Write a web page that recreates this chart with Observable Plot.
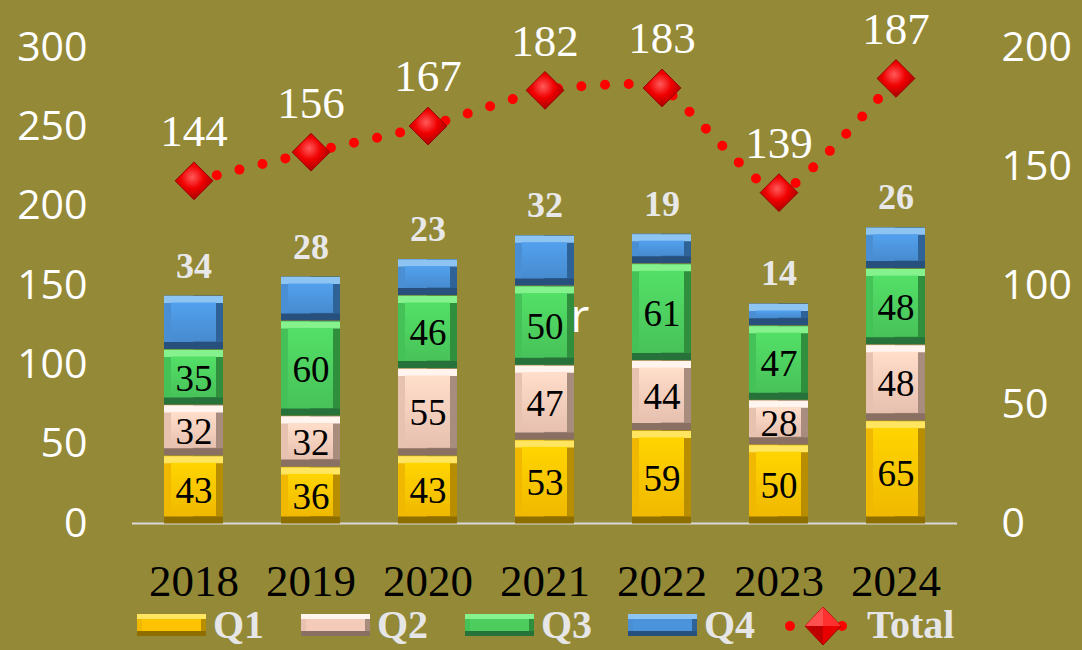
<!DOCTYPE html>
<html><head><meta charset="utf-8">
<script src="https://cdn.jsdelivr.net/npm/d3@7"></script>
<script src="https://cdn.jsdelivr.net/npm/@observablehq/plot@0.6"></script>
<style>
html,body{margin:0;padding:0;background:#948936;}
#chart{width:1082px;height:650px;position:relative;overflow:hidden;background:#948936;}
#chart svg{display:block;}
.legend{position:absolute;top:600px;left:0;width:1082px;height:50px;}
.item{position:absolute;top:0;height:50px;display:flex;align-items:center;}
.lbl{font-family:"Liberation Serif","Times New Roman",serif;font-weight:bold;font-size:40px;color:#E6E6E6;margin-left:7px;line-height:50px;}
</style></head><body><div id="chart"></div>
<script>
// ---- data ----
const years = ["2018","2019","2020","2021","2022","2023","2024"];
const q1 = [43,36,43,53,59,50,65];
const q2 = [32,32,55,47,44,28,48];
const q3 = [35,60,46,50,61,47,48];
const q4 = [34,28,23,32,19,14,26];
const totals = [144,156,167,182,183,139,187];
const seriesNames = ["Q1","Q2","Q3","Q4"];
const leftTicks = [0,50,100,150,200,250,300];
const rightTicks = [0,50,100,150,200];
const notes = [{year:"2021", value:130, text:"r"}];

// ---- styles ----
const palette = {
  Q1:{face:"#FDC300", top:"#FFE560", sideL:"#F0B800", sideR:"#B88E00", bottom:"#8F6E00"},
  Q2:{face:"#F4CBB9", top:"#FFF4EE", sideL:"#E8C2B0", sideR:"#A88C7E", bottom:"#8A7062"},
  Q3:{face:"#4CCD5E", top:"#86F28E", sideL:"#45C257", sideR:"#2F8F3D", bottom:"#26723A"},
  Q4:{face:"#4B93DA", top:"#8EC4F2", sideL:"#4A8ED4", sideR:"#2F6398", bottom:"#27507C"}
};
const ratio = 300/200; // right axis -> left axis units

// ---- table built from arrays ----
const seriesValues = [q1,q2,q3,q4];
const rows = [];
years.forEach((yr,i)=>{
  let cum = 0;
  seriesNames.forEach((s,j)=>{
    const v = seriesValues[j][i];
    rows.push({year:yr, series:s, value:v, y1:cum, y2:cum+v});
    cum += v;
  });
});
const totRows = years.map((yr,i)=>({year:yr, total:totals[i]}));

const marks = [Plot.ruleY([0], {stroke:"#D9D9D9", strokeWidth:2})];
seriesNames.forEach(s=>{
  const d = rows.filter(r=>r.series===s);
  const p = palette[s];
  marks.push(Plot.barY(d, {x:"year", y1:"y1", y2:"y2", fill:`url(#side-${s})`, insetTop:1}));
  marks.push(Plot.tickY(d, {x:"year", y:"y2", stroke:p.top, strokeWidth:7, dy:4.5}));
  marks.push(Plot.tickY(d, {x:"year", y:"y1", stroke:p.bottom, strokeWidth:7, dy:-3.5}));
  marks.push(Plot.barY(d, {x:"year", y1:"y1", y2:"y2", fill:`url(#face-${s})`, insetTop:8, insetBottom:7, insetLeft:7, insetRight:7}));
});
// inside labels Q1-Q3
marks.push(Plot.text(rows.filter(r=>r.series!=="Q4"), {x:"year", y:r=>(r.y1+r.y2)/2, text:"value", fill:"#000", fontSize:37, fontFamily:"Liberation Serif", dy:2}));
// Q4 labels above bars
marks.push(Plot.text(rows.filter(r=>r.series==="Q4"), {x:"year", y:"y2", text:"value", fill:"#E8E8E8", fontSize:36, fontWeight:"bold", fontFamily:"Liberation Serif", dy:-29}));
// total line (right axis)
marks.push(Plot.line(totRows, {x:"year", y:d=>d.total*ratio, curve:"cardinal", tension:0.5, stroke:"#FF0000", strokeWidth:10, strokeDasharray:"0 23.5", strokeLinecap:"round"}));
marks.push(Plot.dot(totRows, {x:"year", y:d=>d.total*ratio, symbol:"diamond2", r:17, fill:"url(#gDia)", stroke:"#9A0000", strokeWidth:1}));
marks.push(Plot.text(totRows, {x:"year", y:d=>d.total*ratio, text:"total", fill:"#FFFFFF", fontSize:45, fontFamily:"Liberation Serif", dy:-49}));
marks.push(Plot.text(notes, {x:"year", y:"value", text:"text", fill:"#FFFFFF", fontSize:46, fontFamily:"Open Sans", dx:35}));
// axes
marks.push(Plot.axisY({anchor:"left", ticks:leftTicks, tickSize:0, tickPadding:45, fontSize:41, fontFamily:"Open Sans", color:"#FFFFFF", label:null}));
marks.push(Plot.axisY({anchor:"right", ticks:rightTicks.map(v=>v*ratio), tickFormat:d=>d/ratio, tickSize:0, tickPadding:44, fontSize:41, fontFamily:"Open Sans", color:"#FFFFFF", label:null}));
marks.push(Plot.axisX({tickSize:0, tickPadding:41, fontSize:45, fontFamily:"Liberation Serif", color:"#000000", label:null}));

const svg = Plot.plot({
  width:1082, height:600,
  marginLeft:132, marginRight:125, marginTop:47, marginBottom:77,
  style:{background:"transparent", overflow:"visible"},
  x:{domain:years, padding:0.5, paddingOuter:0.25},
  y:{domain:[0,300]},
  marks
});

// gradients
const defs = d3.select(svg).insert("defs", ":first-child");
seriesNames.forEach(s=>{
  const p = palette[s];
  const g = defs.append("linearGradient").attr("id", `side-${s}`).attr("x1","0").attr("x2","1").attr("y1","0").attr("y2","0");
  g.append("stop").attr("offset","0").attr("stop-color", p.sideL);
  g.append("stop").attr("offset","0.5").attr("stop-color", p.sideL);
  g.append("stop").attr("offset","0.5").attr("stop-color", p.sideR);
  g.append("stop").attr("offset","1").attr("stop-color", p.sideR);
  const f = defs.append("linearGradient").attr("id", `face-${s}`).attr("x1","0").attr("x2","0").attr("y1","0").attr("y2","1");
  f.append("stop").attr("offset","0").attr("stop-color", d3.color(p.face).brighter(0.25));
  f.append("stop").attr("offset","1").attr("stop-color", d3.color(p.face).darker(0.15));
});
const rg = defs.append("radialGradient").attr("id","gDia").attr("cx","0.45").attr("cy","0.4").attr("r","0.6");
rg.append("stop").attr("offset","0").attr("stop-color","#FF5A5A");
rg.append("stop").attr("offset","0.5").attr("stop-color","#F00000");
rg.append("stop").attr("offset","1").attr("stop-color","#A80000");

const chart = document.getElementById("chart");
chart.appendChild(svg);

// legend
const legend = document.createElement("div");
legend.className = "legend";
function swatch(s){
  const p = palette[s];
  return `<svg width="69" height="22" style="display:block">
    <rect x="0" y="0" width="69" height="22" fill="${p.sideR}"/>
    <rect x="0" y="0" width="34" height="22" fill="${p.sideL}"/>
    <rect x="0" y="0" width="69" height="5" fill="${p.top}"/>
    <rect x="0" y="17" width="69" height="5" fill="${p.bottom}"/>
    <rect x="5" y="5" width="59" height="12" fill="${p.face}"/>
  </svg>`;
}
const legLefts = {Q1:137, Q2:301, Q3:465, Q4:628};
seriesNames.forEach(s=>{
  const it = document.createElement("div");
  it.className = "item"; it.style.left = legLefts[s]+"px";
  it.innerHTML = swatch(s) + `<span class="lbl">${s}</span>`;
  legend.appendChild(it);
});
const tot = document.createElement("div");
tot.className = "item"; tot.style.left = "783px";
tot.innerHTML = `<svg width="70" height="50" style="display:block">
  <circle cx="7" cy="26" r="5" fill="#FF0000"/>
  <circle cx="59" cy="26" r="5" fill="#FF0000"/>
  <path d="M40,7 L58,26 L40,45 L22,26 Z" fill="#E80000" stroke="#9A0000" stroke-width="1"/>
  <path d="M40,7 L58,26 L40,26 Z" fill="#FF3030"/>
  <path d="M40,7 L22,26 L40,26 Z" fill="#FF5050"/>
  <path d="M40,45 L22,26 L40,26 Z" fill="#C00000"/>
</svg><span class="lbl" style="margin-left:14px">Total</span>`;
legend.appendChild(tot);
chart.appendChild(legend);
</script>
</body></html>
